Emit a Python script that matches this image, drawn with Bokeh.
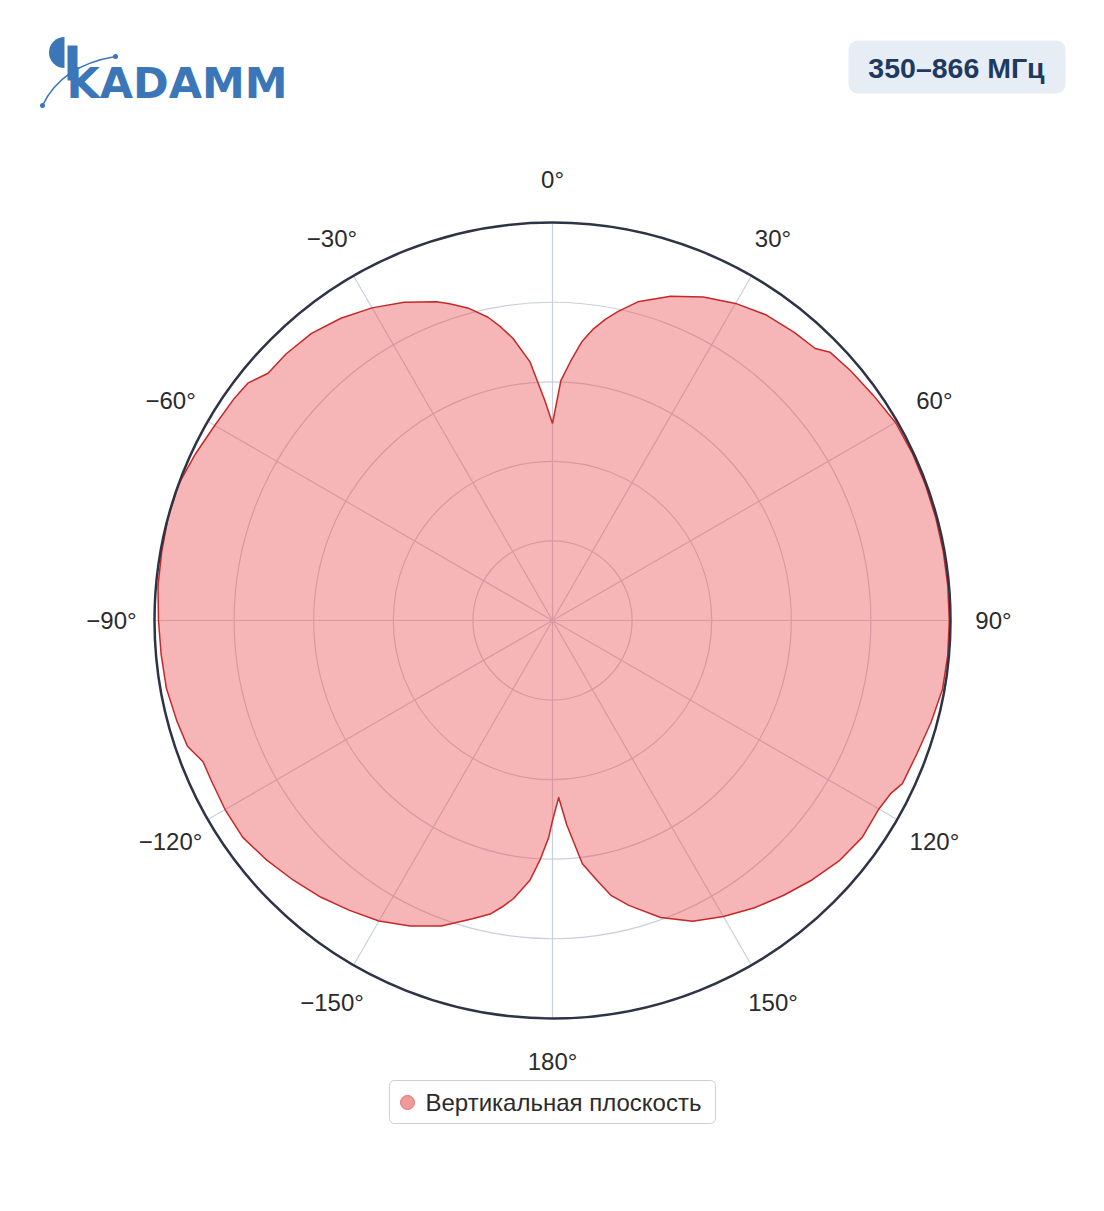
import numpy as np
from bokeh.plotting import figure
from bokeh.models import Range1d
from bokeh.core.properties import value
from bokeh.embed import file_html
from bokeh.resources import INLINE

# ---------------- data ----------------
angles_deg = [0, 2, 4, 6, 8, 10, 12, 15, 20, 25, 30, 35, 40, 44, 46, 50, 55, 60, 65, 70, 75, 80,
              85, 90, 95, 100, 105, 110, 115, 117, 120, 125, 130, 135, 140, 145, 150, 155,
              160, 165, 168, 170, 173, 176, 178, 180, 181, 183, 185, 188, 190, 192, 195, 200,
              205, 210, 215, 220, 225, 230, 235, 240, 245, 248, 251, 255, 260, 265, 270, 275,
              280, 285, 290, 295, 300, 305, 308, 311, 315, 320, 325, 330, 335, 340, 342, 345,
              348, 350, 352, 355, 358]
gain = [0.495, 0.603, 0.653, 0.704, 0.740, 0.769, 0.794, 0.829, 0.867, 0.897, 0.920, 0.937,
        0.945, 0.950, 0.970, 0.977, 0.985, 0.995, 0.997, 0.997, 0.997, 0.997, 0.997, 0.997,
        0.997, 0.995, 0.985, 0.975, 0.970, 0.955, 0.947, 0.950, 0.940, 0.922, 0.902, 0.882,
        0.859, 0.834, 0.794, 0.741, 0.706, 0.668, 0.616, 0.515, 0.445, 0.503, 0.545, 0.603,
        0.656, 0.706, 0.731, 0.754, 0.776, 0.817, 0.847, 0.872, 0.889, 0.907, 0.922, 0.937,
        0.950, 0.950, 0.947, 0.947, 0.970, 0.977, 0.985, 0.987, 0.990, 0.995, 0.997, 1.000,
        1.000, 0.990, 0.980, 0.975, 0.970, 0.947, 0.947, 0.942, 0.927, 0.907, 0.882, 0.852,
        0.837, 0.812, 0.779, 0.749, 0.716, 0.653, 0.553]
tick_angles = [0, 30, 60, 90, 120, 150, 180, -150, -120, -90, -60, -30]
tick_labels = ["0°", "30°", "60°", "90°", "120°", "150°", "180°", "−150°", "−120°", "−90°", "−60°", "−30°"]
radial_grid = [0.2, 0.4, 0.6, 0.8]
series_name = "Вертикальная плоскость"
badge_text = "350–866 МГц"
logo_text = "KADAMM"

# ---------------- layout constants ----------------
W, H = 1088, 1195
OX, OY = 0, 0              # page position of the figure's top-left corner
CX, CY = 552, 620          # polar centre in page pixels
R = 398                    # outer radius in pixels
R_LAB = 441

def px(sx, sy):
    """page pixel -> data coords"""
    return sx - CX, CY - sy

p = figure(width=W, height=H, output_backend="svg", toolbar_location=None,
           x_range=Range1d(OX - CX, OX + W - CX), y_range=Range1d(CY - OY - H, CY - OY),
           x_axis_type=None, y_axis_type=None, min_border=0)
p.outline_line_color = None
p.grid.visible = False
p.background_fill_color = "white"
p.border_fill_color = "white"

GRID = "#c9cfdd"
# grid circles
for g in radial_grid:
    p.circle(x=[0], y=[0], radius=g * R, fill_color=None, line_color=GRID, line_width=1.2)
# spokes
for a in tick_angles:
    t = np.deg2rad(a)
    p.line(x=[0, R * np.sin(t)], y=[0, R * np.cos(t)], line_color=GRID, line_width=1.2)

# data fill
th = np.deg2rad(np.array(angles_deg, dtype=float))
rr = np.array(gain) * R
xs = rr * np.sin(th)
ys = rr * np.cos(th)
xs_c = np.append(xs, xs[0])
ys_c = np.append(ys, ys[0])
p.patch(x=xs_c, y=ys_c, fill_color="#e8484b", fill_alpha=0.4, line_color=None)
p.line(x=xs_c, y=ys_c, line_color="#c62828", line_width=1.5, line_join="round")

# outer circle
p.circle(x=[0], y=[0], radius=R, fill_color=None, line_color="#2e3446", line_width=2.5)

# tick labels
ta = np.deg2rad(np.array(tick_angles, dtype=float))
p.text(x=R_LAB * np.sin(ta), y=R_LAB * np.cos(ta), text=tick_labels,
       text_align="center", text_baseline="middle", text_color="#2b2b2b",
       text_font=value("Liberation Sans"), text_font_size=value("24px"))

# legend
lx0, ly0 = px(389, 1080)
lx1, ly1 = px(715, 1123)
p.quad(left=[lx0], right=[lx1], top=[ly0], bottom=[ly1], fill_color="white",
       line_color="#cfcfcf", line_width=1, border_radius=5)
mx, my = px(407, 1102)
p.scatter(x=[mx], y=[my], size=14, marker="circle", fill_color="#ef9a9a",
          line_color="#e57373", line_width=1)
tx, ty = px(425, 1102)
p.text(x=[tx], y=[ty], text=[series_name], text_align="left", text_baseline="middle",
       text_color="#2b2b2b", text_font=value("Liberation Sans"), text_font_size=value("24px"))

# badge
bx0, by0 = px(848, 40)
bx1, by1 = px(1065, 93)
p.quad(left=[bx0], right=[bx1], top=[by0], bottom=[by1], fill_color="#e6edf5",
       line_color=None, border_radius=9)
btx, bty = px(956, 67)
p.text(x=[btx], y=[bty], text=[badge_text], text_align="center", text_baseline="middle",
       text_color="#1f3a5f", text_font=value("Liberation Sans"), text_font_style="bold",
       text_font_size=value("28.5px"))

# logo
LOGO = "#3b77b8"
scx, scy = px(64, 52)
p.wedge(x=[scx], y=[scy], radius=15.5, start_angle=np.pi / 2, end_angle=3 * np.pi / 2,
        fill_color=LOGO, line_color=None)
k0x, k0y = px(67, 45)
k1x, k1y = px(77, 80)
p.quad(left=[k0x], right=[k1x], top=[k0y], bottom=[k1y], fill_color=LOGO, line_color=None)
ltx, lty = px(66, 107)
p.text(x=[ltx], y=[lty], text=[logo_text], text_align="left", text_baseline="bottom",
       text_color=LOGO, text_font=value("DejaVu Sans"), text_font_style="bold",
       text_font_size=value("43px"))
a0x, a0y = px(42, 105)
a1x, a1y = px(115, 56)
acx, acy = px(61, 65)
p.quadratic(x0=[a0x], y0=[a0y], x1=[a1x], y1=[a1y], cx=[acx], cy=[acy],
            line_color=LOGO, line_width=1.5)
p.scatter(x=[a0x, a1x], y=[a0y, a1y], size=5, marker="circle", fill_color=LOGO, line_color=None)

open("out.html", "w").write(file_html(p, INLINE))
